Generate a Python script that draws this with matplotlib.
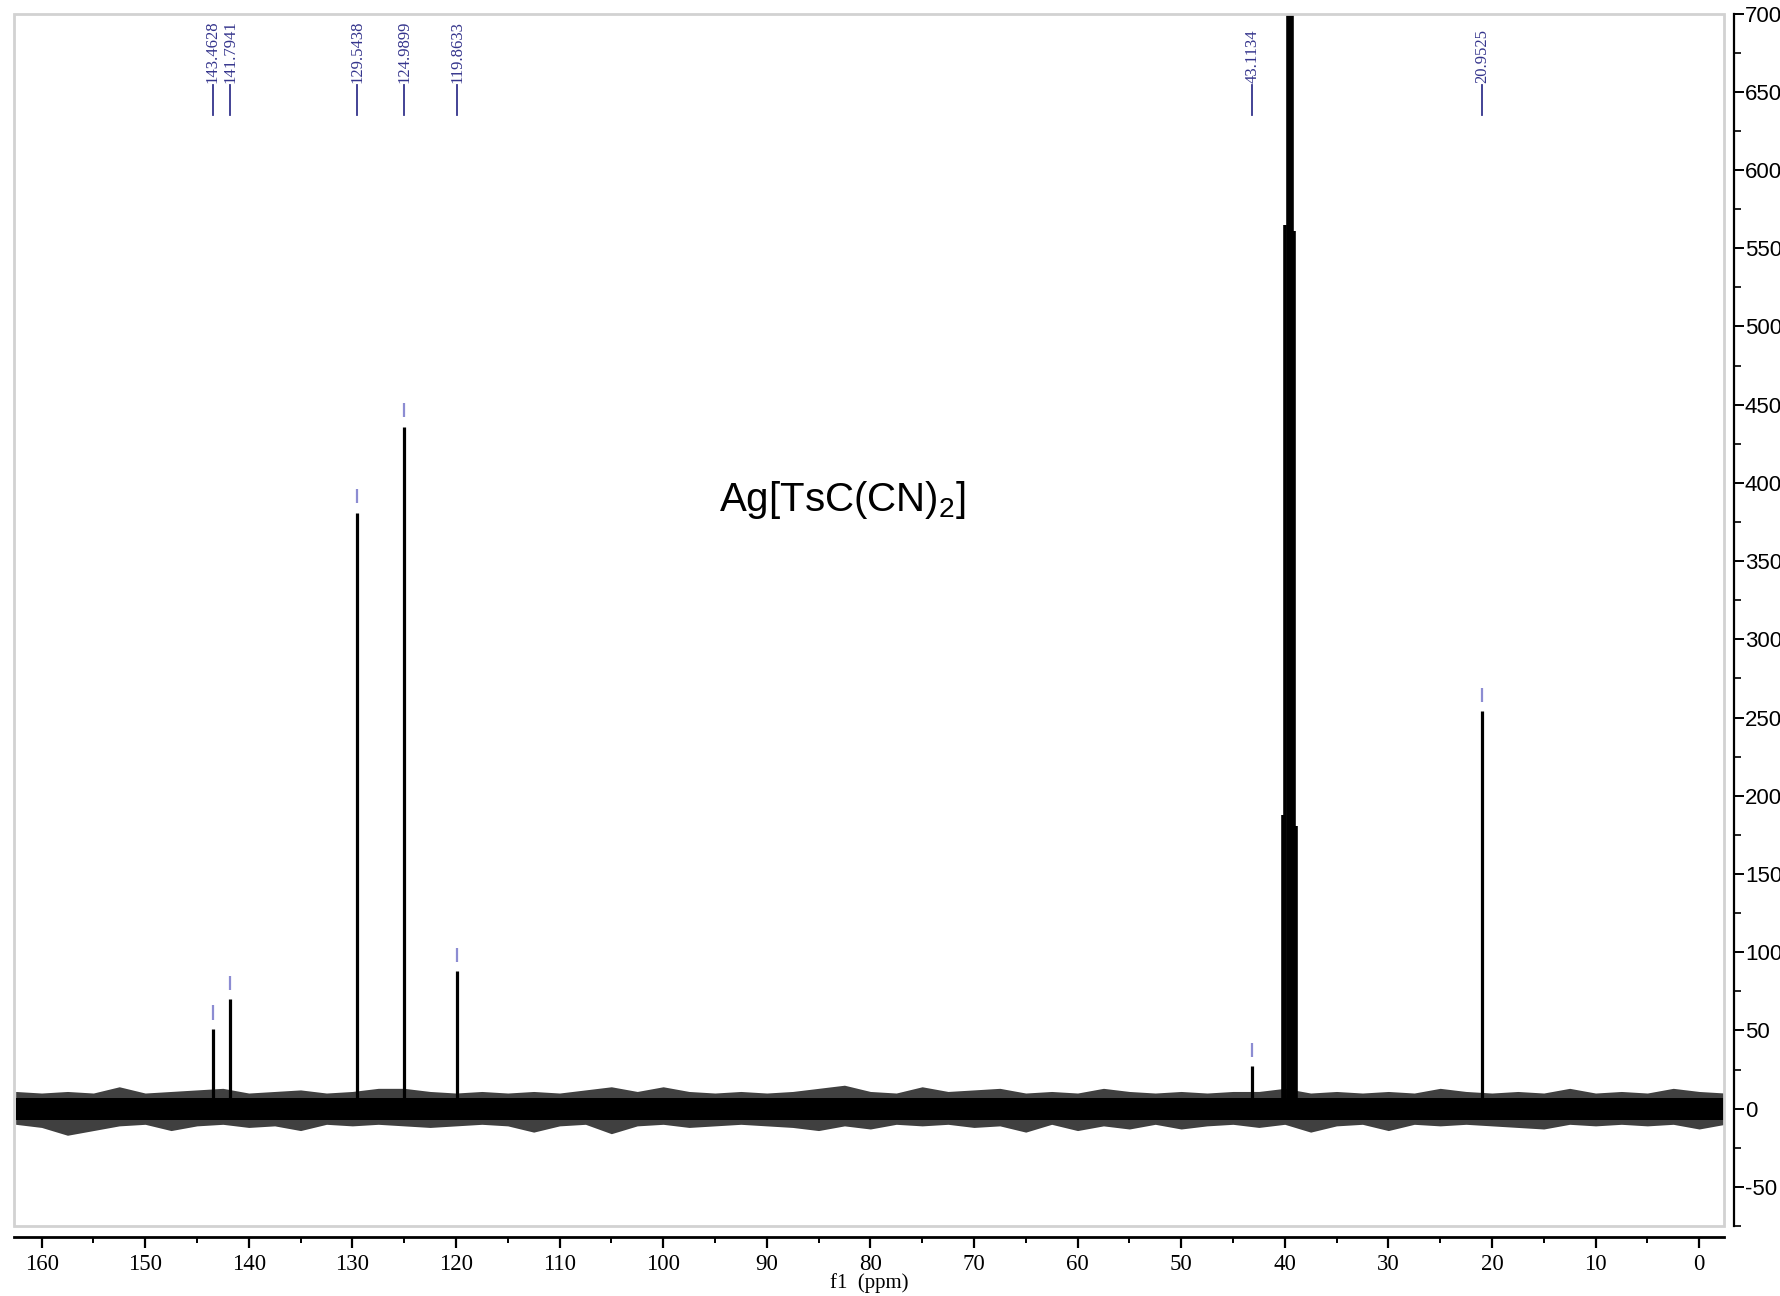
import numpy as np
import matplotlib.pyplot as plt
from matplotlib.patches import Rectangle
from matplotlib.transforms import blended_transform_factory

plt.rcParams['axes.unicode_minus'] = False
plt.rcParams['mathtext.default'] = 'regular'

# picked peaks (ppm) and their intensities
peak_ppm = [143.4628, 141.7941, 129.5438, 124.9899, 119.8633, 43.1134, 20.9525]
peak_height = [51, 70, 381, 436, 88, 27, 254]
peak_labels = ["143.4628", "141.7941", "129.5438", "124.9899", "119.8633",
               "43.1134", "20.9525"]

# DMSO-d6 septet
dmso_ppm = [40.15, 39.94, 39.73, 39.52, 39.31, 39.10, 38.89]
dmso_height = [188, 565, 1120, 1300, 1120, 561, 181]

# baseline noise envelope, sampled every 2.5 ppm from 162.5 down to -2.5
noise_ppm = np.arange(162.5, -2.6, -2.5)
noise_hi = [11, 10, 11, 10, 14, 10, 11, 12, 13, 10, 11, 12, 10, 11, 13, 13, 11,
            10, 11, 10, 11, 10, 12, 14, 11, 14, 11, 10, 11, 10, 11, 13, 15, 11,
            10, 14, 11, 12, 13, 10, 11, 10, 13, 11, 10, 11, 10, 11, 11, 13, 10,
            11, 10, 11, 10, 13, 11, 10, 11, 10, 13, 10, 11, 10, 13, 11, 10]
noise_lo = [-10, -12, -17, -14, -11, -10, -14, -11, -10, -12, -11, -14, -10,
            -11, -10, -11, -12, -11, -10, -11, -15, -11, -10, -16, -11, -10,
            -12, -11, -10, -11, -12, -14, -11, -13, -10, -11, -10, -12, -11,
            -15, -10, -14, -11, -13, -10, -13, -11, -10, -12, -10, -15, -11,
            -10, -14, -10, -11, -10, -11, -12, -13, -10, -11, -10, -11, -10,
            -13, -10]
noise_core = 7

navy = "#34348c"

fig = plt.figure(figsize=(17.8, 12.96), dpi=100)
ax = fig.add_axes([13.6 / 1780, 1 - 1226 / 1296, 1710.4 / 1780, 1212.4 / 1296])

# noise band
ax.fill_between(noise_ppm, noise_lo, noise_hi, color="black", alpha=0.75,
                lw=0)
ax.fill_between(noise_ppm, -noise_core, noise_core, color="black", lw=0)

# peaks
ax.vlines(peak_ppm, 0, peak_height, colors="black", lw=2.3)
ax.vlines(dmso_ppm, 0, dmso_height, colors="black", lw=2.6)

# little markers over each picked peak
ax.vlines(peak_ppm, np.array(peak_height) + 6, np.array(peak_height) + 15,
          colors="#8c8cd2", lw=1.6)

# peak labels along the top
trans = blended_transform_factory(ax.transData, ax.transAxes)
for p, lab in zip(peak_ppm, peak_labels):
    ax.plot([p, p], [0.9163, 0.9411], transform=trans, color=navy, lw=1.3,
            clip_on=False)
    ax.text(p, 0.9425, lab, transform=trans, rotation=90, ha="center",
            va="bottom", fontsize=12, family="Liberation Serif", color=navy)

ax.text(82.7, 389, "Ag[TsC(CN)$_2$]", ha="center", va="center", fontsize=29,
        family="Liberation Sans")

ax.set_xlim(162.7, -2.4)
ax.set_ylim(-75, 700)

# light frame round the plot area, axes drawn outside it
ax.add_patch(Rectangle((0, 0), 1, 1, transform=ax.transAxes, fill=False,
                       ec="#d2d2d2", lw=2, clip_on=False, zorder=5))
for s in ["top", "left"]:
    ax.spines[s].set_visible(False)
ax.spines["bottom"].set_position(("outward", 8))
ax.spines["right"].set_position(("outward", 7))
ax.spines["bottom"].set_linewidth(2)
ax.spines["right"].set_linewidth(1.6)

ax.set_xticks(np.arange(160, -1, -10))
ax.set_xticks(np.arange(160, -3, -5), minor=True)
ax.tick_params(axis="x", which="major", direction="out", length=8, width=1.6,
               pad=4, labelsize=16.5)
ax.tick_params(axis="x", which="minor", direction="out", length=4, width=1.4)
for t in ax.get_xticklabels():
    t.set_family("Liberation Serif")

ax.yaxis.tick_right()
ax.set_yticks(np.arange(-50, 701, 50))
ax.set_yticks(np.arange(-75, 701, 25), minor=True)
ax.tick_params(axis="y", which="major", direction="out", length=7, width=1.4,
               pad=1, labelsize=16)
ax.tick_params(axis="y", which="minor", direction="out", length=5, width=1.2)
for t in ax.get_yticklabels():
    t.set_family("Liberation Sans")

ax.set_xlabel("f1  (ppm)", fontsize=15, family="Liberation Serif")
ax.xaxis.set_label_coords(0.5, -0.039)

fig.savefig("out.png", dpi=100)
